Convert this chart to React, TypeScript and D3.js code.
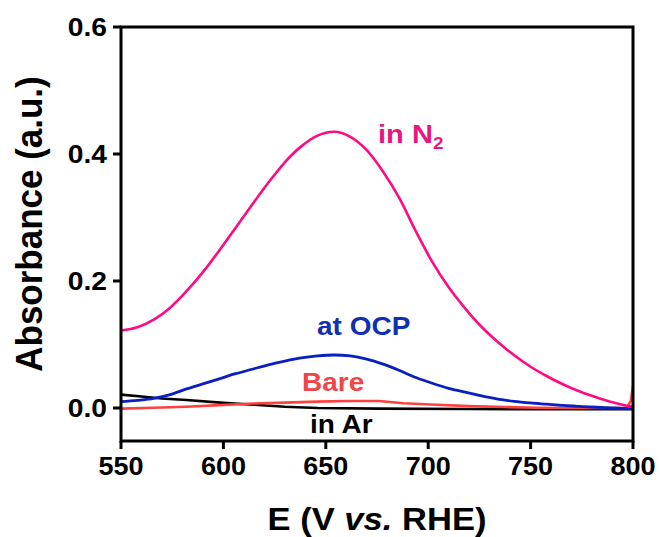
import React from "react";
import * as d3 from "d3";

const xTicks = [550, 600, 650, 700, 750, 800];
const yTicks = [0.0, 0.2, 0.4, 0.6];
const yTickLabels = ["0.0", "0.2", "0.4", "0.6"];

const specX = [550, 558, 566, 574, 582, 590, 598, 606, 614, 622, 630, 638, 646, 654, 662, 670, 678, 686, 694, 702, 710, 718, 726, 734, 742, 750, 758, 766, 774, 782, 790, 798, 800];
const pinkY = [0.122, 0.127, 0.139, 0.158, 0.184, 0.214, 0.248, 0.284, 0.320, 0.355, 0.387, 0.412, 0.429, 0.435, 0.427, 0.406, 0.372, 0.330, 0.278, 0.230, 0.190, 0.157, 0.128, 0.104, 0.083, 0.065, 0.050, 0.037, 0.026, 0.017, 0.009, 0.003, 0.002];
const blueY = [0.010, 0.012, 0.015, 0.021, 0.030, 0.038, 0.046, 0.054, 0.061, 0.068, 0.074, 0.079, 0.082, 0.0835, 0.082, 0.077, 0.069, 0.059, 0.048, 0.039, 0.031, 0.025, 0.019, 0.014, 0.0105, 0.008, 0.006, 0.004, 0.0025, 0.0012, 0.0003, -0.0008, -0.001];

const blackX = [550, 560, 570, 582, 600, 615, 630, 646, 676, 720, 760, 800];
const blackY = [0.021, 0.018, 0.015, 0.0126, 0.008, 0.005, 0.002, 0.0, -0.001, -0.0015, -0.002, -0.002];

const redX = [550, 566, 582, 598, 615, 630, 646, 660, 676, 688, 704, 720, 737, 753, 770, 785, 797, 799, 800];
const redY = [-0.001, 0.0005, 0.002, 0.0045, 0.007, 0.0085, 0.010, 0.011, 0.011, 0.0075, 0.005, 0.003, 0.0015, 0.0005, 0.0, 0.0, 0.0, 0.012, 0.035];

const W = 660, H = 537;
const L = 121, R = 633, T = 27, B = 441;
const FONT = "'Liberation Sans', Arial, sans-serif";
const SX = 1.12;

export default function App() {
  const x = d3.scaleLinear().domain([550, 800]).range([L, R]);
  const y = d3.scaleLinear().domain([0, 0.6]).range([408, T]);

  const mk = (xs: number[], ys: number[], curve: any) =>
    d3.line<number>().x((_, i) => x(xs[i])).y((_, i) => y(ys[i])).curve(curve)(xs) || "";

  const pinkPath = mk(specX, pinkY, d3.curveMonotoneX);
  const bluePath = mk(specX, blueY, d3.curveMonotoneX);
  const blackPath = mk(blackX, blackY, d3.curveLinear);
  const redPath = mk(redX, redY, d3.curveLinear);

  const T_ = (props: { x: number; y: number; size: number; anchor?: string; fill?: string; sx?: number; children: any }) => (
    <text
      transform={`translate(${props.x},${props.y}) scale(${props.sx || SX},1)`}
      fontFamily={FONT}
      fontWeight="bold"
      fontSize={props.size}
      textAnchor={props.anchor || "start"}
      fill={props.fill || "#000"}
    >
      {props.children}
    </text>
  );

  return (
    <svg width={W} height={H} style={{ position: "fixed", left: 0, top: 0, background: "#fff" }}>
      <rect x={0} y={0} width={W} height={H} fill="#fff" />
      {/* curves */}
      <path d={blackPath} fill="none" stroke="#000" strokeWidth={2.6} />
      <path d={redPath} fill="none" stroke="#ff4040" strokeWidth={2.6} />
      <path d={bluePath} fill="none" stroke="#0a1fc2" strokeWidth={2.8} />
      <path d={pinkPath} fill="none" stroke="#ff0a84" strokeWidth={2.6} />

      {/* frame */}
      <rect x={L} y={T} width={R - L} height={B - T} fill="none" stroke="#000" strokeWidth={3} />

      {/* y ticks */}
      {yTicks.map((v, i) => (
        <g key={"y" + i}>
          <line x1={L - 8} x2={L} y1={y(v)} y2={y(v)} stroke="#000" strokeWidth={3} />
          <T_ x={107} y={y(v) + 9} size={25} anchor="end" sx={1.13}>{yTickLabels[i]}</T_>
        </g>
      ))}
      {/* x ticks */}
      {xTicks.map((v, i) => (
        <g key={"x" + i}>
          <line x1={x(v)} x2={x(v)} y1={B} y2={B + 8} stroke="#000" strokeWidth={3} />
          <T_ x={x(v)} y={475} size={25} anchor="middle" sx={1.08}>{String(v)}</T_>
        </g>
      ))}

      {/* axis titles */}
      <text
        transform={`translate(377,530) scale(1.08,1)`}
        fontFamily={FONT}
        fontWeight="bold"
        fontSize={32}
        textAnchor="middle"
        fill="#000"
      >
        E (V <tspan fontStyle="italic">vs.</tspan> RHE)
      </text>
      <text
        transform={`translate(42,224) rotate(-90) scale(1,1.08)`}
        fontFamily={FONT}
        fontWeight="bold"
        fontSize={35}
        textAnchor="middle"
        fill="#000"
      >
        Absorbance (a.u.)
      </text>

      {/* annotations */}
      <text transform={`translate(378,143) scale(${SX},1)`} fontFamily={FONT} fontWeight="bold" fontSize={26} fill="#e8177f">
        in N<tspan fontSize={17} dy={6}>2</tspan>
      </text>
      <T_ x={317} y={335} size={25} fill="#1030b4">at OCP</T_>
      <T_ x={302} y={391} size={25} fill="#f24545">Bare</T_>
      <T_ x={310} y={433} size={25} fill="#000">in Ar</T_>
    </svg>
  );
}
